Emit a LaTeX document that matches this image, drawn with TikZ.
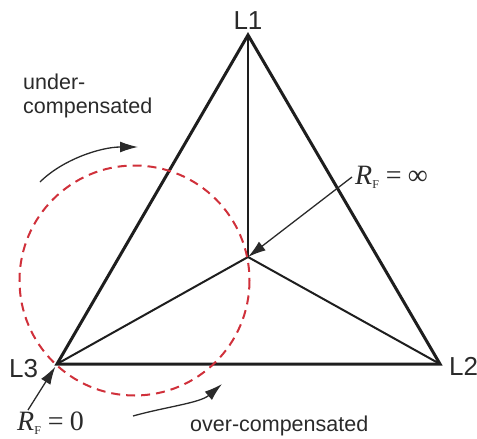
\documentclass[tikz,border=0pt]{standalone}
\usepackage{fontspec}
\setmainfont{Liberation Sans}
\newfontfamily\seriffont{Liberation Serif}
\usetikzlibrary{arrows.meta}
\definecolor{lineblack}{HTML}{1E1E1E}
\definecolor{txtgray}{HTML}{2A2A2A}
\definecolor{circred}{HTML}{D0303A}
\newcommand{\rsub}[1]{{\seriffont\fontsize{28}{28}\selectfont\textit{R}\raisebox{-4pt}{\fontsize{12}{12}\selectfont F}\hspace{7pt}=\hspace{6pt}#1}}
\begin{document}
\begin{tikzpicture}[x=1pt,y=-1pt,
  edge/.style={draw=lineblack, line width=3pt, line join=miter},
  inner/.style={draw=lineblack, line width=2pt},
  arr/.style={draw=txtgray, line width=1.3pt, -{Latex[length=18pt,width=11pt]}},
  lbl/.style={inner sep=0pt, text=txtgray, font=\fontsize{26}{26}\selectfont},
  captxt/.style={inner sep=0pt, text=txtgray, font=\fontsize{21.5}{24}\selectfont, align=left},
  mth/.style={inner sep=0pt, text=txtgray},
  redcirc/.style={draw=circred, line width=2pt, dash pattern=on 9pt off 6pt}
]
\useasboundingbox (0,0) rectangle (477,439);
\coordinate (L1) at (248,35);
\coordinate (L2) at (440,364);
\coordinate (L3) at (57,364);
\coordinate (C) at (248,257);

% triangle
\draw[edge] (L1) -- (L2) -- (L3) -- cycle;
% inner lines
\draw[inner] (L1) -- (C);
\draw[inner] (C) -- (L2);
\draw[inner] (C) -- (L3);

% red dashed circle
\coordinate (O) at (134.5,280.5);
\draw[redcirc] (O) circle[radius=115];

% labels
\node[lbl, anchor=base] (tL1) at (248,29) {L1};
\node[lbl, anchor=base west] (tL2) at (449,375) {L2};
\node[lbl, anchor=base west] (tL3) at (9,377) {L3};

\node[captxt, anchor=base west] (under) at (23,113) {under-\\compensated};
\node[captxt, anchor=base west] (over) at (190,431) {over-compensated};

\node[mth, anchor=base west] (rinf) at (355,184) {\rsub{∞}};
\node[mth, anchor=base west] (rzero) at (17,430) {\rsub{0}};

% arrows
\coordinate (a1) at (352,177);
\draw[arr] (a1) -- (C);
\coordinate (a2) at (28,410);
\draw[arr, shorten >=3pt] (a2) -- (L3);
\coordinate (u1) at (40,182);
\coordinate (u2) at (138,147);
\draw[arr] (u1) .. controls (62,160) and (100,147) .. (u2);
\coordinate (o1) at (133,416);
\coordinate (o2) at (222,384);
\draw[arr] (o1) .. controls (165,407) and (200,403) .. (o2);
\end{tikzpicture}
\end{document}
